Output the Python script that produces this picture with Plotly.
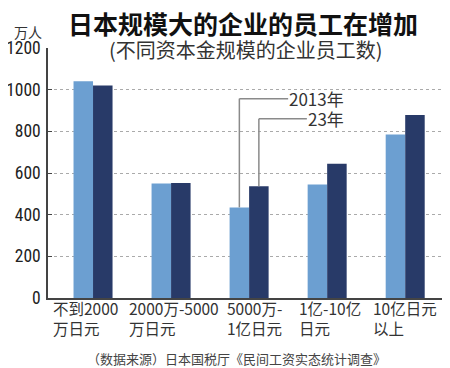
import plotly.graph_objects as go

categories = ["不到2000<br>万日元", "2000万-5000<br>万日元", "5000万-<br>1亿日元", "1亿-10亿<br>日元", "10亿日元<br>以上"]
values_2013 = [1040, 550, 435, 545, 785]
values_2023 = [1020, 552, 537, 645, 878]
series_names = ["2013年", "23年"]
y_ticks = [0, 200, 400, 600, 800, 1000, 1200]

CJK = "Noto Sans CJK SC"
NUM = "Liberation Sans Narrow, Roboto Condensed, Arial Narrow, sans-serif"
LIGHT = "#6c9fd1"
DARK = "#283a68"
BARGAP = 0.5
label_xshift = [-8, 3, 5, 3, 0]

x_idx = list(range(len(categories)))

fig = go.Figure()
fig.add_trace(go.Bar(x=x_idx, y=values_2013, name=series_names[0], marker_color=LIGHT, marker_line_width=0))
fig.add_trace(go.Bar(x=x_idx, y=values_2023, name=series_names[1], marker_color=DARK, marker_line_width=0))

off = (1 - BARGAP) / 4
g = 2
label_y = [957, 860]
label_x = [2.5, 2.74]
for i, (vals, ly, lx) in enumerate(zip([values_2013, values_2023], label_y, label_x)):
    bx = g - off if i == 0 else g + off
    fig.add_shape(type="line", xref="x", yref="y", x0=bx, x1=bx, y0=vals[g], y1=ly,
                  line=dict(color="#8a8a8a", width=1.5))
    fig.add_shape(type="line", xref="x", yref="y", x0=bx, x1=lx, y0=ly, y1=ly,
                  line=dict(color="#8a8a8a", width=1.5))
    fig.add_annotation(x=lx, y=ly, xref="x", yref="y", text=series_names[i], showarrow=False,
                       xanchor="left", yanchor="middle", xshift=0, borderpad=0,
                       font=dict(family=CJK, size=17, color="#333"))

for i, c in enumerate(categories):
    fig.add_annotation(x=i, y=0, xref="x", yref="paper", text=c, showarrow=False,
                       xanchor="center", yanchor="top", align="left", yshift=2,
                       xshift=label_xshift[i], borderpad=0,
                       font=dict(family=CJK, size=15.5, color="#333"))

fig.add_annotation(x=0.5, y=1, xref="paper", yref="paper", text="<b>日本规模大的企业的员工在增加</b>",
                   showarrow=False, xanchor="center", yanchor="middle", yshift=25, xshift=-4,
                   font=dict(family=CJK, size=25, color="#111"))
fig.add_annotation(x=0.5, y=1, xref="paper", yref="paper", text="(不同资本金规模的企业员工数)",
                   showarrow=False, xanchor="center", yanchor="middle", yshift=-1, xshift=-1,
                   font=dict(family=CJK, size=20, color="#333"))
fig.add_annotation(x=0, y=1, xref="paper", yref="paper", text="万人",
                   showarrow=False, xanchor="center", yanchor="middle", yshift=16, xshift=-20,
                   font=dict(family=CJK, size=14, color="#333"))
fig.add_annotation(x=0.5, y=0, xref="paper", yref="paper",
                   text="（数据来源）日本国税厅《民间工资实态统计调查》", showarrow=False,
                   xanchor="center", yanchor="middle", yshift=-60, xshift=-10,
                   font=dict(family=CJK, size=13, color="#444"))

# page body has an 8px margin, so the figure is offset by 8px inside the window
fig.update_layout(
    width=442, height=360,
    margin=dict(l=40, r=5, t=40, b=70, autoexpand=False),
    paper_bgcolor="white", plot_bgcolor="white",
    barmode="group", bargap=BARGAP, bargroupgap=0,
    showlegend=False,
    xaxis=dict(range=[-0.577, 4.51], tickvals=x_idx, showticklabels=False, showgrid=False,
               showline=True, linecolor="#444", linewidth=1.5, zeroline=False, automargin=False),
    yaxis=dict(range=[0, 1200], tickvals=y_ticks, showgrid=True, gridcolor="#aaaaaa", griddash="dot",
               gridwidth=1, showline=True, linecolor="#444", linewidth=1.5, zeroline=False,
               ticks="inside", ticklen=4, tickcolor="#444", automargin=False,
               tickfont=dict(family=NUM, size=17.5, color="#222"), ticklabelstandoff=2),
)

fig.write_html("out.html")
